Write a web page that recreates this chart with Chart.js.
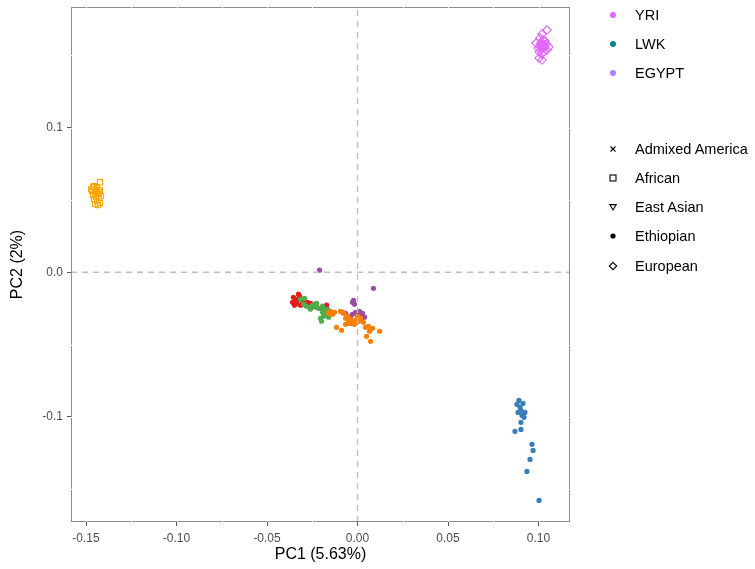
<!DOCTYPE html>
<html><head><meta charset="utf-8">
<script src="https://cdn.jsdelivr.net/npm/chart.js@4/dist/chart.umd.min.js"></script>
<style>
html,body{margin:0;padding:0;background:#fff;}
#wrap{position:relative;width:755px;height:569px;font-family:"Liberation Sans",Arial,sans-serif;overflow:hidden;}
#c{position:absolute;left:0;top:0;}
.lg{position:absolute;left:606px;font-size:14.5px;color:#000;height:20px;line-height:20px;white-space:nowrap;}
.lg svg{position:absolute;left:0;top:3px;}
.lg span{position:absolute;left:29px;top:0;}
</style></head>
<body><div id="wrap"><canvas id="c" width="755" height="569"></canvas>
<div id="legend"></div></div>
<script>
// ---- data (PC1, PC2) ----
const xTicks = [-0.15, -0.10, -0.05, 0.00, 0.05, 0.10];
const yTicks = [-0.1, 0.0, 0.1];
const xGrid = [-0.15,-0.125,-0.10,-0.075,-0.05,-0.025,0.025,0.05,0.075,0.10];
const yGrid = [-0.15,-0.1,-0.05,0.05,0.1,0.15];
const xTitle = "PC1 (5.63%)";
const yTitle = "PC2 (2%)";

const squaresPC1 = [-0.1423,-0.1461,-0.1439,-0.1423,-0.1467,-0.1450,-0.1434,-0.1461,-0.1445,-0.1428,-0.1456,-0.1439,-0.1423,-0.1450,-0.1434,-0.1417,-0.1472,-0.1445,-0.1456,-0.1428];
const squaresPC2 = [0.0623,0.0588,0.0581,0.0567,0.0561,0.0554,0.0540,0.0533,0.0519,0.0512,0.0505,0.0491,0.0478,0.0471,0.0464,0.0526,0.0574,0.0567,0.0595,0.0554];

const diamondsPC1 = [0.1047,0.1019,0.1008,0.0986,0.1019,0.1019,0.1058,0.1047,0.1003,0.1019,0.1003,0.1019,0.1030,0.1008,0.1036,0.0997,0.1041,0.1025,0.1014,0.1030,0.1022,0.1016,0.1027,0.1011,0.1033];
const diamondsPC2 = [0.1675,0.1647,0.1619,0.1585,0.1585,0.1557,0.1557,0.1536,0.1522,0.1509,0.1481,0.1467,0.1571,0.1564,0.1599,0.1550,0.1578,0.1606,0.1543,0.1522,0.1567,0.1575,0.1560,0.1580,0.1553];

const bluePC1 = [0.0892,0.0914,0.0881,0.0903,0.0887,0.0909,0.0925,0.0898,0.0920,0.0903,0.0870,0.0903,0.0964,0.0970,0.0953,0.0936,0.1003];
const bluePC2 = [-0.0886,-0.0907,-0.0913,-0.0955,-0.0969,-0.0990,-0.0969,-0.0934,-0.1003,-0.1038,-0.1100,-0.1087,-0.1190,-0.1232,-0.1294,-0.1377,-0.1578];

const redPC1 = [-0.0354,-0.0343,-0.0337,-0.0348,-0.0331,-0.0320,-0.0309,-0.0298,-0.0287,-0.0271,-0.0254,-0.0243,-0.0259,-0.0276,-0.0315,-0.0226,-0.0210,-0.0232,-0.0171,-0.0177,-0.0083,-0.0359,-0.0326];
const redPC2 = [-0.0173,-0.0194,-0.0215,-0.0228,-0.0187,-0.0166,-0.0194,-0.0208,-0.0228,-0.0235,-0.0242,-0.0235,-0.0215,-0.0208,-0.0228,-0.0242,-0.0249,-0.0221,-0.0228,-0.0256,-0.0277,-0.0208,-0.0152];

const greenPC1 = [-0.0315,-0.0298,-0.0282,-0.0265,-0.0248,-0.0232,-0.0215,-0.0193,-0.0182,-0.0165,-0.0193,-0.0188,-0.0204,-0.0199,-0.0171,-0.0149,-0.0226,-0.0260,-0.0293,-0.0160];
const greenPC2 = [-0.0187,-0.0221,-0.0235,-0.0242,-0.0228,-0.0235,-0.0249,-0.0235,-0.0256,-0.0256,-0.0277,-0.0304,-0.0318,-0.0339,-0.0291,-0.0284,-0.0215,-0.0256,-0.0180,-0.0311];

const orangePC1 = [-0.0160,-0.0138,-0.0149,-0.0127,-0.0094,-0.0077,-0.0066,-0.0050,-0.0044,-0.0028,-0.0011,-0.0039,0.0006,0.0000,-0.0116,-0.0088,-0.0055,0.0061,0.0083,0.0066,0.0050,0.0122,0.0072,0.0017,-0.0066,-0.0017,0.0033,0.0044];
const orangePC2 = [-0.0284,-0.0291,-0.0270,-0.0277,-0.0270,-0.0284,-0.0318,-0.0332,-0.0353,-0.0346,-0.0332,-0.0325,-0.0339,-0.0304,-0.0381,-0.0401,-0.0304,-0.0374,-0.0388,-0.0408,-0.0443,-0.0408,-0.0478,-0.0318,-0.0360,-0.0360,-0.0346,-0.0381];

const purplePC1 = [-0.0022,-0.0017,-0.0028,-0.0066,-0.0055,-0.0039,-0.0050,-0.0028,-0.0011,0.0006,0.0017,0.0000,0.0028,-0.0006,-0.0033,0.0022,0.0011,0.0039,-0.0210,0.0088];
const purplePC2 = [-0.0194,-0.0221,-0.0208,-0.0284,-0.0304,-0.0318,-0.0332,-0.0291,-0.0277,-0.0291,-0.0304,-0.0318,-0.0284,-0.0346,-0.0353,-0.0332,-0.0270,-0.0311,0.0014,-0.0111];

const legendPops = ["YRI","LWK","EGYPT"];
const legendPopColors = ["#E066FF","#008B8B","#B07EFF"];
const legendShapes = ["Admixed America","African","East Asian","Ethiopian","European"];

// ---- build ----
const zip = (a,b) => a.map((v,i)=>({x:v,y:b[i]}));
const xMin=-0.1583, xMax=0.1174, yMin=-0.1727, yMax=0.1834;

function dotSet(px,py,color){
  return {type:'scatter',data:zip(px,py),pointStyle:'circle',pointRadius:2.6,
    backgroundColor:color,borderColor:color,borderWidth:0,pointHoverRadius:2.6};
}
const datasets = [
  {type:'line',data:[{x:0,y:yMin},{x:0,y:yMax}],borderColor:'#BEBEBE',borderWidth:1.4,borderDash:[6,5],pointRadius:0,fill:false},
  {type:'line',data:[{x:xMin,y:0},{x:xMax,y:0}],borderColor:'#BEBEBE',borderWidth:1.4,borderDash:[6,5],pointRadius:0,fill:false},
  {type:'scatter',data:zip(squaresPC1,squaresPC2),pointStyle:'rect',pointRadius:3.6,backgroundColor:'rgba(0,0,0,0)',borderColor:'#FFA500',borderWidth:1.1},
  {type:'scatter',data:zip(diamondsPC1,diamondsPC2),pointStyle:'rectRot',pointRadius:4.2,backgroundColor:'rgba(0,0,0,0)',borderColor:'#E066FF',borderWidth:1.1},
  dotSet(bluePC1,bluePC2,'#377EB8'),
  dotSet(orangePC1,orangePC2,'#FF7F00'),
  dotSet(greenPC1,greenPC2,'#4DAF4A'),
  dotSet(redPC1,redPC2,'#E41A1C'),
  dotSet(purplePC1,purplePC2,'#984EA3'),
];

const borderPlugin = {
  id:'panelBorder',
  afterDatasetsDraw(chart){
    const {ctx,chartArea:a,scales}=chart;
    ctx.save();ctx.strokeStyle='#8C8C8C';ctx.lineWidth=1;
    ctx.strokeRect(a.left+0.5,a.top+0.5,a.right-a.left-1,a.bottom-a.top-1);
    // white panel grid lines show only where they cross the border
    ctx.strokeStyle='#FFFFFF';ctx.lineWidth=1;
    ctx.beginPath();
    xGrid.forEach(v=>{const p=Math.round(scales.x.getPixelForValue(v))+0.5;
      ctx.moveTo(p,a.top);ctx.lineTo(p,a.top+1.5);ctx.moveTo(p,a.bottom-1.5);ctx.lineTo(p,a.bottom);});
    yGrid.forEach(v=>{const p=Math.round(scales.y.getPixelForValue(v))+0.5;
      if(p>a.top+1&&p<a.bottom-1){ctx.moveTo(a.left,p);ctx.lineTo(a.left+1.5,p);ctx.moveTo(a.right-1.5,p);ctx.lineTo(a.right,p);}});
    ctx.stroke();
    ctx.restore();
  }
};

const fontFam = '"Liberation Sans", Arial, sans-serif';
new Chart(document.getElementById('c'),{
  data:{datasets},
  options:{
    responsive:false,animation:false,
    layout:{padding:{left:0,top:7,right:185,bottom:0}},
    plugins:{legend:{display:false},tooltip:{enabled:false}},
    scales:{
      x:{type:'linear',min:xMin,max:xMax,
        afterFit(s){s.height=47;s.paddingLeft=0;s.paddingRight=0;},
        afterBuildTicks(s){s.ticks=xTicks.map(v=>({value:v}));},
        border:{display:false},
        grid:{drawOnChartArea:false,drawTicks:true,tickLength:4,tickColor:'#555',color:'#555'},
        ticks:{autoSkip:false,maxRotation:0,padding:5,color:'#4D4D4D',font:{family:fontFam,size:12},
          callback:v=>v.toFixed(2)},
        title:{display:true,text:xTitle,color:'#000',font:{family:fontFam,size:16},padding:{top:0,bottom:5}}
      },
      y:{type:'linear',min:yMin,max:yMax,
        afterFit(s){s.width=71;s.paddingTop=0;s.paddingBottom=0;},
        afterBuildTicks(s){s.ticks=yTicks.map(v=>({value:v}));},
        border:{display:false},
        grid:{drawOnChartArea:false,drawTicks:true,tickLength:4,tickColor:'#555',color:'#555'},
        ticks:{autoSkip:false,padding:4,color:'#4D4D4D',font:{family:fontFam,size:12},
          callback:v=>v.toFixed(1)},
        title:{display:true,text:yTitle,color:'#000',font:{family:fontFam,size:16},padding:{top:8,bottom:0}}
      }
    }
  },
  plugins:[borderPlugin]
});

// ---- legend ----
const lg=document.getElementById('legend');
const popY=[5,34,63];
legendPops.forEach((n,i)=>{
  lg.insertAdjacentHTML('beforeend',`<div class="lg" style="top:${popY[i]}px"><svg width="14" height="14"><circle cx="7" cy="7" r="3" fill="${legendPopColors[i]}"/></svg><span>${n}</span></div>`);
});
const shapeSvg=[
  '<path d="M4.5 4.5 L9.5 9.5 M9.5 4.5 L4.5 9.5" stroke="#000" stroke-width="1.1"/>',
  '<rect x="4" y="4" width="6" height="6" fill="none" stroke="#000" stroke-width="1.1"/>',
  '<path d="M3.8 4.6 L10.2 4.6 L7 10 Z" fill="none" stroke="#000" stroke-width="1.1"/>',
  '<circle cx="7" cy="7" r="2.6" fill="#000"/>',
  '<path d="M7 3.3 L10.7 7 L7 10.7 L3.3 7 Z" fill="none" stroke="#000" stroke-width="1.1"/>'
];
const shapeY=[139,168,197,226,256];
legendShapes.forEach((n,i)=>{
  lg.insertAdjacentHTML('beforeend',`<div class="lg" style="top:${shapeY[i]}px"><svg width="14" height="14">${shapeSvg[i]}</svg><span>${n}</span></div>`);
});
</script></body></html>
